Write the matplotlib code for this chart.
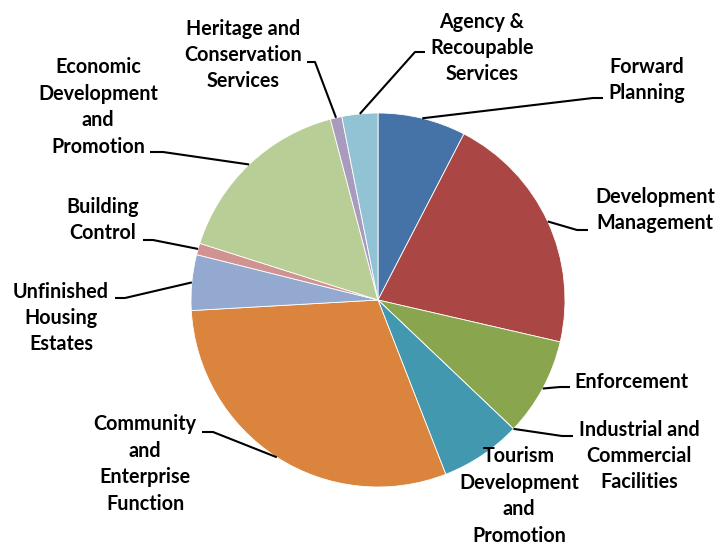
import numpy as np
import matplotlib
matplotlib.use("Agg")
import matplotlib.pyplot as plt

# ---------- data ----------
labels = [
    "Forward\nPlanning",
    "Development\nManagement",
    "Enforcement",
    "Industrial and\nCommercial\nFacilities",
    "Tourism\nDevelopment\nand\nPromotion",
    "Community\nand\nEnterprise\nFunction",
    "Unfinished\nHousing\nEstates",
    "Building\nControl",
    "Economic\nDevelopment\nand\nPromotion",
    "Heritage and\nConservation\nServices",
    "Agency &\nRecoupable\nServices",
]
values = [7.6, 21.0, 8.5, 0.0, 7.0, 30.0, 4.8, 1.0, 16.0, 1.0, 3.1]
colors = ["#4572A7", "#AA4643", "#89A54E", "#71588F", "#4198AF", "#DB843D",
          "#93A9CF", "#D19392", "#B9CD96", "#A99BBD", "#92C3D4"]

# ---------- layout (pixel coords, y down) ----------
W, H = 718, 548
CX, CY, R = 378, 300, 187

# text centre, leader elbow, leader end (None = no leader)
label_pos = [
    (647, 80), (655, 210), (631, 382), (639, 456), (519, 496),
    (145, 464), (61, 318), (103, 220), (98, 107), (243, 55), (482, 48),
]
leaders = [
    ((593, 98), (603, 98)),
    ((577, 230), (588, 230)),
    ((560, 387), (570, 387)),
    ((562, 436), (573, 436)),
    None,
    ((213, 432), (202, 432)),
    ((125, 298), (115, 298)),
    ((153, 240), (143, 240)),
    ((163, 152), (150, 152)),
    ((315, 62), (307, 62)),
    ((415, 52), (425, 52)),
]


def px(x, y):
    return x, H - y


plt.rcParams['font.family'] = ['Lato', 'DejaVu Sans']

fig = plt.figure(figsize=(W / 100, H / 100), dpi=100)
ax = fig.add_axes([0, 0, 1, 1])

wedges, _ = ax.pie(values, colors=colors, startangle=90, counterclock=False,
                   center=px(CX, CY), radius=R,
                   wedgeprops=dict(edgecolor='white', linewidth=0.6))
ax.set_xlim(0, W)
ax.set_ylim(0, H)
ax.set_aspect('equal')
ax.axis('off')

for w, lab, pos, ld in zip(wedges, labels, label_pos, leaders):
    ax.text(*px(*pos), lab, ha='center', va='center', multialignment='center',
            fontsize=14.2, fontweight='bold', color='black', linespacing=1.4)
    if ld is None:
        continue
    mid = np.deg2rad((w.theta1 + w.theta2) / 2)
    x0 = CX + R * np.cos(mid)
    y0 = CY - R * np.sin(mid)
    (ex, ey), (tx, ty) = ld
    xs = [x0, ex, tx]
    ys = [H - y0, H - ey, H - ty]
    ax.plot(xs, ys, color='black', linewidth=1.5, solid_capstyle='butt')

fig.savefig("out.png", dpi=100)
